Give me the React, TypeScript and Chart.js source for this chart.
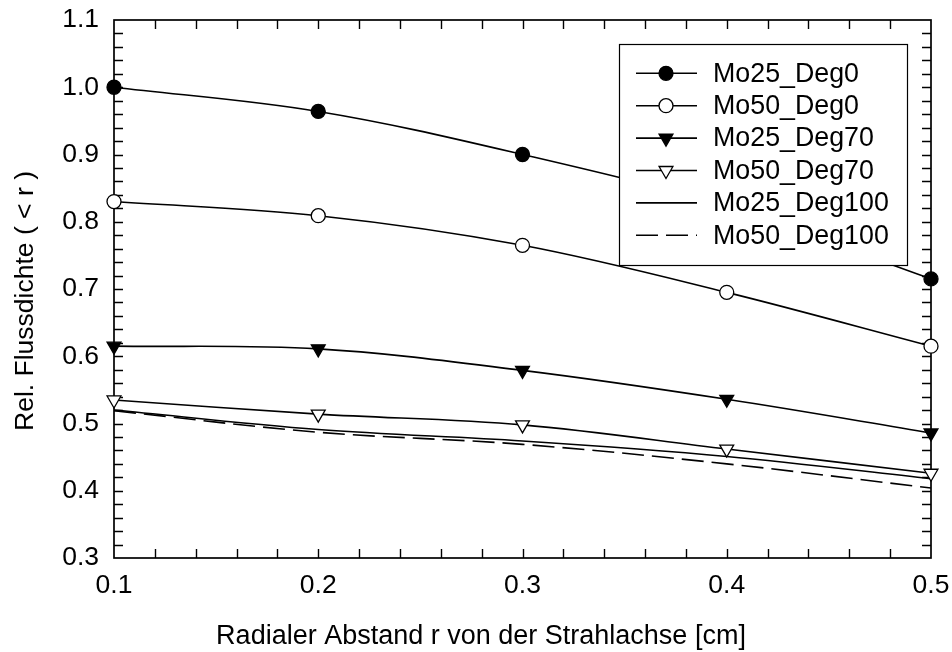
import React, { useEffect, useRef } from "react";
import { Chart, registerables } from "chart.js";

Chart.register(...registerables);

const radii = [0.1, 0.2, 0.3, 0.4, 0.5];
const mo25Deg0 = [1.0, 0.964, 0.9, 0.822, 0.715];
const mo50Deg0 = [0.83, 0.809, 0.765, 0.695, 0.615];
const mo25Deg70 = [0.615, 0.611, 0.579, 0.536, 0.486];
const mo50Deg70 = [0.535, 0.514, 0.498, 0.462, 0.426];
const mo25Deg100 = [0.52, 0.491, 0.474, 0.451, 0.418];
const mo50Deg100 = [0.519, 0.487, 0.469, 0.44, 0.404];

const seriesNames = ["Mo25_Deg0", "Mo50_Deg0", "Mo25_Deg70", "Mo50_Deg70", "Mo25_Deg100", "Mo50_Deg100"];
const xTitle = "Radialer Abstand r von der Strahlachse [cm]";
const yTitle = "Rel. Flussdichte ( < r )";
const xRange = [0.1, 0.5];
const yRange = [0.3, 1.1];
const minorStep = 0.02;

const FONT = "'Liberation Sans', Arial, Helvetica, sans-serif";

function pts(vals: number[]) {
  return radii.map((x, i) => ({ x, y: vals[i] }));
}

const styles = [
  { pointStyle: "circle", bg: "#000", rot: 0, r: 7, dash: [] as number[] },
  { pointStyle: "circle", bg: "#fff", rot: 0, r: 7, dash: [] as number[] },
  { pointStyle: "triangle", bg: "#000", rot: 180, r: 8, dash: [] as number[] },
  { pointStyle: "triangle", bg: "#fff", rot: 180, r: 8, dash: [] as number[] },
  { pointStyle: false as any, bg: "#000", rot: 0, r: 0, dash: [] as number[] },
  { pointStyle: false as any, bg: "#000", rot: 0, r: 0, dash: [22, 8] },
];

const framePlugin = {
  id: "frame",
  beforeDatasetsDraw(chart: any) {
    const { ctx, chartArea: a, scales } = chart;
    const xs = scales.x;
    const ys = scales.y;
    ctx.save();
    ctx.strokeStyle = "#000";
    ctx.lineWidth = 1.7;
    ctx.strokeRect(a.left, a.top, a.right - a.left, a.bottom - a.top);
    ctx.lineWidth = 1.4;
    const tl = 9;
    ctx.beginPath();
    const nx = Math.round((xRange[1] - xRange[0]) / minorStep);
    for (let i = 1; i < nx; i++) {
      const px = Math.round(xs.getPixelForValue(xRange[0] + i * minorStep)) + 0.5;
      ctx.moveTo(px, a.bottom);
      ctx.lineTo(px, a.bottom - tl);
      ctx.moveTo(px, a.top);
      ctx.lineTo(px, a.top + tl);
    }
    const ny = Math.round((yRange[1] - yRange[0]) / minorStep);
    for (let i = 1; i < ny; i++) {
      const py = Math.round(ys.getPixelForValue(yRange[0] + i * minorStep)) + 0.5;
      ctx.moveTo(a.left, py);
      ctx.lineTo(a.left + tl, py);
      ctx.moveTo(a.right, py);
      ctx.lineTo(a.right - tl, py);
    }
    ctx.stroke();

    // axis titles
    ctx.fillStyle = "#000";
    ctx.font = `27px ${FONT}`;
    ctx.textAlign = "center";
    ctx.textBaseline = "alphabetic";
    ctx.fillText(xTitle, 481, 644);
    ctx.save();
    ctx.translate(33, 301);
    ctx.rotate(-Math.PI / 2);
    ctx.font = `26.5px ${FONT}`;
    ctx.fillText(yTitle, 0, 0);
    ctx.restore();
    ctx.restore();
  },
};

const legendPlugin = {
  id: "boxLegend",
  afterDatasetsDraw(chart: any) {
    const { ctx } = chart;
    const bx = 619, by = 44, bw = 288, bh = 221;
    ctx.save();
    ctx.fillStyle = "#fff";
    ctx.fillRect(bx, by, bw, bh);
    ctx.strokeStyle = "#000";
    ctx.lineWidth = 1.2;
    ctx.strokeRect(bx + 0.5, by + 0.5, bw, bh);
    chart.data.datasets.forEach((ds: any, i: number) => {
      const y = 73.3 + i * 32.4;
      const st = styles[i];
      ctx.strokeStyle = "#000";
      ctx.lineWidth = 1.6;
      ctx.setLineDash(st.dash);
      ctx.beginPath();
      ctx.moveTo(636, y);
      ctx.lineTo(697, y);
      ctx.stroke();
      ctx.setLineDash([]);
      if (st.pointStyle) {
        ctx.fillStyle = st.bg;
        ctx.lineWidth = 1.3;
        ctx.beginPath();
        if (st.pointStyle === "circle") {
          ctx.arc(666, y, st.r, 0, Math.PI * 2);
        } else {
          const r = st.r;
          ctx.moveTo(666, y + r);
          ctx.lineTo(666 - r * Math.sqrt(3) / 2, y - r / 2);
          ctx.lineTo(666 + r * Math.sqrt(3) / 2, y - r / 2);
          ctx.closePath();
        }
        ctx.fill();
        ctx.stroke();
      }
      ctx.fillStyle = "#000";
      ctx.font = `26.8px ${FONT}`;
      ctx.textAlign = "left";
      ctx.textBaseline = "middle";
      ctx.fillText(ds.label, 713, y + 1);
    });
    ctx.restore();
  },
};

export default function App() {
  const ref = useRef<HTMLCanvasElement | null>(null);
  useEffect(() => {
    document.body.style.margin = "0";
    const vals = [mo25Deg0, mo50Deg0, mo25Deg70, mo50Deg70, mo25Deg100, mo50Deg100];
    const chart = new Chart(ref.current as HTMLCanvasElement, {
      type: "line",
      data: {
        datasets: vals.map((v, i) => ({
          label: seriesNames[i],
          data: pts(v),
          borderColor: "#000",
          borderWidth: 1.6,
          borderDash: styles[i].dash,
          backgroundColor: styles[i].bg,
          pointStyle: styles[i].pointStyle,
          pointRotation: styles[i].rot,
          pointRadius: styles[i].r,
          pointBackgroundColor: styles[i].bg,
          pointBorderColor: "#000",
          pointBorderWidth: 1.3,
          tension: 0.35,
          fill: false,
          clip: false as any,
        })),
      },
      options: {
        responsive: false,
        animation: false,
        events: [],
        layout: { padding: { top: 20, right: 21, left: 0, bottom: 0 } },
        plugins: { legend: { display: false }, tooltip: { enabled: false } },
        scales: {
          x: {
            type: "linear",
            min: xRange[0],
            max: xRange[1],
            grid: { display: false, drawTicks: false },
            border: { display: false },
            afterFit: (s: any) => {
              s.height = 94;
              s.paddingLeft = 0;
              s.paddingRight = 0;
            },
            ticks: {
              stepSize: 0.1,
              padding: 12,
              color: "#000",
              font: { family: FONT, size: 26.5 },
              callback: (v: any) => Number(v).toFixed(1),
            },
          },
          y: {
            type: "linear",
            min: yRange[0],
            max: yRange[1],
            grid: { display: false, drawTicks: false },
            border: { display: false },
            afterFit: (s: any) => {
              s.width = 114;
              s.paddingTop = 0;
              s.paddingBottom = 0;
            },
            ticks: {
              stepSize: 0.1,
              padding: 15,
              color: "#000",
              font: { family: FONT, size: 26.5 },
              callback: (v: any) => Number(v).toFixed(1),
            },
          },
        },
      },
      plugins: [framePlugin, legendPlugin],
    });
    return () => chart.destroy();
  }, []);
  return (
    <div style={{ width: 952, height: 652 }}>
      <canvas ref={ref} width={952} height={652} />
    </div>
  );
}
